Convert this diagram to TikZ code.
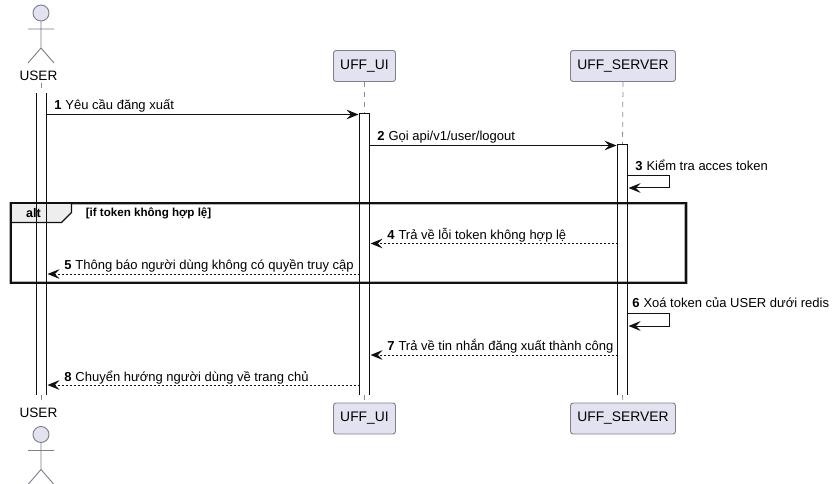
\documentclass[tikz,border=0pt]{standalone}
\usepackage{fontspec}
\setmainfont{Liberation Sans}
\usetikzlibrary{arrows.meta}
\definecolor{partfill}{HTML}{E2E2F0}
\definecolor{partline}{HTML}{7F7F8A}
\definecolor{lifegray}{HTML}{8C8C8C}
\definecolor{tabfill}{HTML}{EEEEEE}
\definecolor{inkdark}{HTML}{111111}
\tikzset{
  x=0.75pt,y=-0.75pt,
  part/.style={draw=partline,fill=partfill,line width=0.7pt,rounded corners=2pt,minimum height=23.25pt,inner sep=0pt,font=\fontsize{10.4pt}{12pt}\selectfont,text=black},
  actorname/.style={font=\fontsize{10.2pt}{12pt}\selectfont,inner sep=0pt,text=black},
  actorline/.style={draw=partline,line width=0.7pt},
  life/.style={draw=lifegray,line width=0.6pt,dash pattern=on 3.75pt off 3.75pt},
  bar/.style={draw=inkdark,line width=0.75pt},
  msg/.style={draw=inkdark,line width=0.75pt,-{Stealth[length=9pt,width=7.2pt,inset=3.4pt]}},
  rmsg/.style={msg,dash pattern=on 1.5pt off 1.5pt},
  lab/.style={anchor=base west,inner sep=0pt,font=\fontsize{9.75pt}{11pt}\selectfont,text=black},
}
\newcommand{\num}[1]{\textbf{#1}\hspace{3pt}}
\begin{document}
\begin{tikzpicture}
\useasboundingbox (0,0) rectangle (837,484);
\fill[white] (0,0) rectangle (837,484);
% participants
\node[actorname] (usertop) at (38.5,75.7) {USER};
\node[actorname] (userbot) at (38.5,412.7) {USER};
\node[part,minimum width=46.5pt] (uitop) at (364.5,66) {UFF\_UI};
\node[part,minimum width=46.5pt] (uibot) at (364.5,418.5) {UFF\_UI};
\node[part,minimum width=78.75pt] (srvtop) at (623,66) {UFF\_SERVER};
\node[part,minimum width=78.75pt] (srvbot) at (623,418.5) {UFF\_SERVER};
% lifelines, visible only outside the activation bars
\coordinate (userlt) at (41.5,83);
\coordinate (userlb) at (41.5,403);
\coordinate (useraa) at (41.5,93);
\coordinate (userab) at (41.5,395);
\coordinate (uiaa) at (364.5,114);
\coordinate (uiab) at (364.5,395);
\coordinate (srvaa) at (622.5,145);
\coordinate (srvab) at (622.5,395);
\draw[life] (userlt) -- (useraa);
\draw[life] (userab) -- (userlb);
\draw[life] (uitop.south) -- (uiaa);
\draw[life] (uiab) -- (uibot.north);
\draw[life] (srvtop.south) -- (srvaa);
\draw[life] (srvab) -- (srvbot.north);
% alt frame
\draw[draw=lightgray!80!gray,line width=2.6pt,fill=white] (10.5,203.5) rectangle (686,282.5);
\path[fill=tabfill] (10.5,203.5) -- (71.5,203.5) -- (71.5,212.5) -- (61.5,222.5) -- (10.5,222.5) -- cycle;
\draw[draw=inkdark,line width=0.9pt] (71.5,203.5) -- (71.5,212.5) -- (61.5,222.5) -- (10.5,222.5);
\draw[draw=inkdark,line width=1.5pt] (10.5,203.5) rectangle (686,282.5);
\node[inner sep=0pt,font=\fontsize{9.4pt}{12pt}\bfseries\selectfont] (alttag) at (33.5,213.5) {alt};
\node[lab,font=\fontsize{8.7pt}{10pt}\bfseries\selectfont] (altcond) at (85.5,217) {[if token không hợp lệ]};
% activations
\draw[bar] (36.5,93) -- (36.5,395);
\draw[bar] (46.5,93) -- (46.5,395);
\draw[bar] (359.5,395) -- (359.5,114) -- (369.5,114) -- (369.5,395);
\draw[bar] (617.5,395) -- (617.5,145) -- (627.5,145) -- (627.5,395);
% messages
\node[lab] (m1) at (54,110) {\num{1}Yêu cầu đăng xuất};
\draw[msg] (46.5,114.5) -- (358.5,114.5);
\node[lab] (m2) at (377,140.5) {\num{2}Gọi api/v1/user/logout};
\draw[msg] (369.5,145.5) -- (616.5,145.5);
\node[lab] (m3) at (635,171) {\num{3}Kiểm tra acces token};
\draw[msg] (627.5,175.5) -- (669.5,175.5) -- (669.5,188) -- (628.5,188);
\node[lab] (m4) at (387,239) {\num{4}Trả về lỗi token không hợp lệ};
\draw[rmsg] (617.5,243.5) -- (370.5,243.5);
\node[lab] (m5) at (64,269.5) {\num{5}Thông báo người dùng không có quyền truy cập};
\draw[rmsg] (359.5,274) -- (47.5,274);
\node[lab] (m6) at (632,307.5) {\num{6}Xoá token của USER dưới redis};
\draw[msg] (627.5,313) -- (669.5,313) -- (669.5,326) -- (628.5,326);
\node[lab] (m7) at (387,350.5) {\num{7}Trả về tin nhắn đăng xuất thành công};
\draw[rmsg] (617.5,355) -- (370.5,355);
\node[lab] (m8) at (64,381) {\num{8}Chuyển hướng người dùng về trang chủ};
\draw[rmsg] (359.5,385) -- (47.5,385);
% actors
\foreach \o in {13,434.5}{
  \begin{scope}[shift={(41,\o)}]
    \draw[actorline,fill=partfill] (0,0) circle (6pt);
    \draw[actorline] (0,8) -- (0,35) (-13,16) -- (13,16) (-13,50) -- (0,35) -- (13,50);
  \end{scope}
}
\end{tikzpicture}
\end{document}
